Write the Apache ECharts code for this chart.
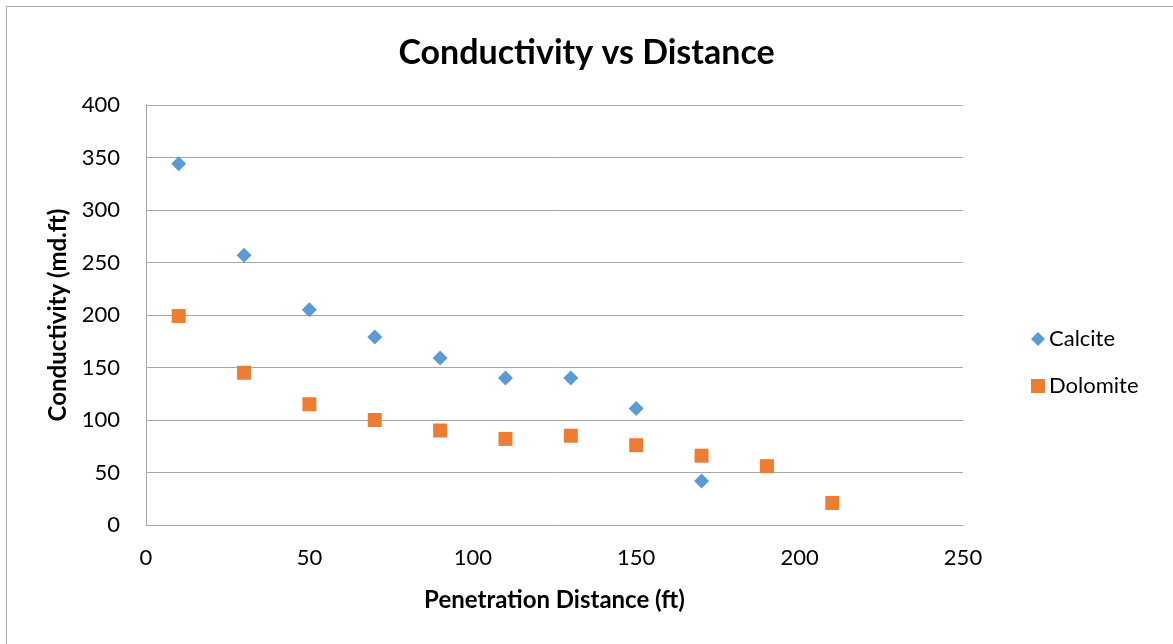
<!DOCTYPE html>
<html><head><meta charset="utf-8">
<script src="https://cdn.jsdelivr.net/npm/echarts@6/dist/echarts.min.js"></script>
<style>html,body{margin:0;padding:0;background:#fff}#c{width:1173px;height:644px}</style>
</head><body><div id="c"></div>
<script>
const distances = [10, 30, 50, 70, 90, 110, 130, 150, 170, 190, 210];
const calcite = [344, 257, 205, 179, 159, 140, 140, 111, 42];
const dolomite = [199, 145, 115, 100, 90, 82, 85, 76, 66, 56, 21];
const xTicks = [0, 50, 100, 150, 200, 250];
const yTicks = [0, 50, 100, 150, 200, 250, 300, 350, 400];

const font = "Lato, 'Open Sans', sans-serif";
const chart = echarts.init(document.getElementById('c'));
chart.setOption({
  animation: false,
  backgroundColor: '#fff',
  graphic: [{type:'rect', shape:{x:6.5,y:6.5,width:1300,height:800}, style:{fill:'none', stroke:'#a6a6a6', lineWidth:1}, silent:true}],
  title: {text: 'Conductivity vs Distance', left: 'center', top: 31,
    textStyle: {fontFamily: font, fontSize: 34, fontWeight: 'bold', color: '#000'}},
  legend: {orient: 'vertical', left: 1026, top: 323, itemGap: 25, itemWidth: 14, itemHeight: 14,
    textStyle: {fontFamily: font, fontSize: 22, color: '#000', padding: [0,0,0,-1]},
    data: [{name:'Calcite', icon:'diamond'}, {name:'Dolomite', icon:'rect'}]},
  grid: {left: 146, top: 105, width: 817, height: 420, containLabel: false},
  xAxis: {type: 'value', min: xTicks[0], max: xTicks[xTicks.length-1], interval: 50,
    name: 'Penetration Distance (ft)', nameLocation: 'middle', nameGap: 63,
    nameTextStyle: {fontFamily: font, fontSize: 24, fontWeight: 'bold', color: '#000'},
    axisLine: {show: true, lineStyle: {color: '#a6a6a6', width: 1}},
    axisTick: {show: false}, splitLine: {show: false},
    axisLabel: {fontFamily: font, fontSize: 22, color: '#000', margin: 22}},
  yAxis: {type: 'value', min: yTicks[0], max: yTicks[yTicks.length-1], interval: 50,
    name: 'Conductivity (md.ft)', nameLocation: 'middle', nameGap: 76,
    nameTextStyle: {fontFamily: font, fontSize: 24, fontWeight: 'bold', color: '#000'},
    axisLine: {show: true, lineStyle: {color: '#a6a6a6', width: 1}},
    axisTick: {show: false},
    splitLine: {show: true, lineStyle: {color: '#a6a6a6', width: 1}},
    axisLabel: {fontFamily: font, fontSize: 22, color: '#000', margin: 26}},
  series: [
    {name: 'Calcite', type: 'scatter', symbol: 'diamond', symbolSize: 15,
     itemStyle: {color: '#5b9bd5', opacity: 1},
     data: calcite.map((v, i) => [distances[i], v])},
    {name: 'Dolomite', type: 'scatter', symbol: 'rect', symbolSize: 14,
     itemStyle: {color: '#ed7d31', opacity: 1},
     data: dolomite.map((v, i) => [distances[i], v])}
  ]
});
</script></body></html>
